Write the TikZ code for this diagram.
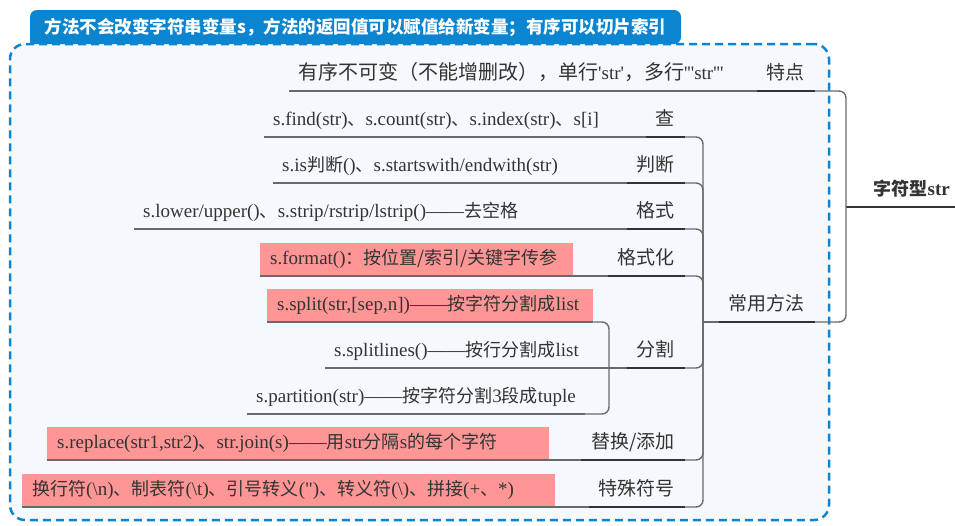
\documentclass[tikz,border=0pt]{standalone}
\usepackage{fontspec}
\newfontfamily\lat{Liberation Serif}
\newfontfamily\cjk{Noto Sans CJK SC}
\newcommand\zhs[1]{{\cjk\fontsize{18}{22}\selectfont #1}}
\newcommand\zhl[1]{{\cjk\fontsize{20}{22}\selectfont #1}}
\hyphenpenalty=10000
\exhyphenpenalty=10000
\definecolor{tabblue}{RGB}{11,133,208}
\definecolor{framefill}{RGB}{245,249,253}
\definecolor{pinkc}{RGB}{255,150,150}
\definecolor{linegray}{RGB}{105,105,105}
\definecolor{darkline}{RGB}{51,51,51}
\definecolor{txt}{RGB}{51,51,51}
\tikzset{
  conn/.style={draw=linegray, line width=1.4pt},
  dk/.style={draw=darkline, line width=2.2pt},
  cnt/.style={anchor=south west, inner xsep=9pt, inner ysep=0pt, minimum height=33pt,
    text height=16pt, text depth=5pt, font=\lat\fontsize{19}{22}\selectfont, text=txt},
  pk/.style={cnt, fill=pinkc, inner xsep=10pt, text width=#1, align=left},
  lab/.style={anchor=south east, inner xsep=10pt, inner ysep=0pt, minimum height=33pt,
    text height=16pt, text depth=5pt, font=\cjk\fontsize{19}{22}\selectfont, text=txt},
  outerbox/.style={draw=tabblue, line width=2.5pt, dash pattern=on 8pt off 5pt,
    rounded corners=15pt, fill=framefill, minimum width=819pt, minimum height=476pt, inner sep=0pt},
  titlenode/.style={text=white, font=\cjk\bfseries\fontsize{17.5}{20}\selectfont, inner sep=0pt},
  rootn/.style={anchor=south east, inner xsep=5pt, inner ysep=0pt, minimum height=33pt,
    text height=16pt, text depth=5pt, font=\lat\bfseries\fontsize{19}{22}\selectfont, text=txt},
}
\begin{document}
\begin{tikzpicture}[x=1pt,y=-1pt]
\useasboundingbox (0,0) rectangle (955,525);
% container
\node[outerbox] (box) at (419.5,282) {};
\fill[tabblue] (30,44) [rounded corners=7] -- (30,10) -- (681,10) -- (681,44) [sharp corners] -- cycle;
\node[titlenode] (title) at (355.5,27) {方法不会改变字符串变量s，方法的返回值可以赋值给新变量；有序可以切片索引};
% root
\node[rootn] (root) at (955,207) {\zhs{\bfseries 字符型}str};
\coordinate (rj) at (846,207);
\draw[dk] (rj) -- (root.south east);
% 特点
\node[lab] (td) at (815,91) {特点};
\node[cnt] (tdc) at (289,91) {\zhl{有序不可变（不能增删改），单行}'str'\zhl{，多行}'''str'''};
\draw[conn] (tdc.south west) -- (td.south west);
\draw[dk] (td.south west) -- (td.south east);
\draw[conn, rounded corners=7] (rj) |- (td.south east);
% 常用方法
\node[lab] (cy) at (815,322) {常用方法};
\coordinate (cyj) at (703,322);
\draw[conn] (cyj) -- (cy.south west);
\draw[dk] (cy.south west) -- (cy.south east);
\draw[conn, rounded corners=7] (rj) |- (cy.south east);
% 查
\node[lab] (ch) at (685,137) {查};
\node[cnt] (chc) at (264,137) {s.find(str)\zhs{、}s.count(str)\zhs{、}s.index(str)\zhs{、}s[i]};
\draw[conn] (chc.south west) -- (ch.south west);
\draw[dk] (ch.south west) -- (ch.south east);
\draw[conn, rounded corners=7] (cyj) |- (ch.south east);
% 判断
\node[lab] (pd) at (685,183) {判断};
\node[cnt] (pdc) at (273,183) {s.is\zhs{判断}()\zhs{、}s.startswith/endwith(str)};
\draw[conn] (pdc.south west) -- (pd.south west);
\draw[dk] (pd.south west) -- (pd.south east);
\draw[conn, rounded corners=7] (cyj) |- (pd.south east);
% 格式
\node[lab] (gs) at (685,229) {格式};
\node[cnt] (gsc) at (134,229) {s.lower/upper()\zhs{、}s.strip/rstrip/lstrip()——\zhs{去空格}};
\draw[conn] (gsc.south west) -- (gs.south west);
\draw[dk] (gs.south west) -- (gs.south east);
\draw[conn, rounded corners=7] (cyj) |- (gs.south east);
% 格式化
\node[lab] (gsh) at (685,276) {格式化};
\node[pk=293pt] (gshc) at (260,276) {s.format()\zhs{：按位置/索引/关键字传参}};
\draw[conn] (gshc.south west) -- (gsh.south west);
\draw[dk] (gsh.south west) -- (gsh.south east);
\draw[conn, rounded corners=7] (cyj) |- (gsh.south east);
% 分割
\node[lab] (fg) at (685,368) {分割};
\coordinate (fgj) at (609,368);
\draw[conn] (fgj) -- (fg.south west);
\draw[dk] (fg.south west) -- (fg.south east);
\draw[conn, rounded corners=7] (cyj) |- (fg.south east);
\node[pk=306pt] (spc) at (267,322) {s.split(str,[sep,n])——\zhs{按字符分割成}list};
\draw[conn] (spc.south west) -- (spc.south east);
\draw[conn, rounded corners=7] (fgj) |- (spc.south east);
\node[cnt] (slc) at (325,368) {s.splitlines()——\zhs{按行分割成}list};
\draw[conn] (slc.south west) -- (fgj);
\node[cnt] (ptc) at (247,414) {s.partition(str)——\zhs{按字符分割}3\zhs{段成}tuple};
\draw[conn] (ptc.south west) -- (ptc.south east);
\draw[conn, rounded corners=7] (fgj) |- (ptc.south east);
% 替换/添加
\node[lab] (th) at (685,460) {替换/添加};
\node[pk=482pt] (thc) at (47,460) {s.replace(str1,str2)\zhs{、}str.join(s)——\zhs{用}str\zhs{分隔}s\zhs{的每个字符}};
\draw[conn] (thc.south west) -- (th.south west);
\draw[dk] (th.south west) -- (th.south east);
\draw[conn, rounded corners=7] (cyj) |- (th.south east);
% 特殊符号
\node[lab] (ts) at (685,507) {特殊符号};
\node[pk=513pt] (tsc) at (22,507) {\zhs{换行符}(\textbackslash n)\zhs{、制表符}(\textbackslash t)\zhs{、引号转义}(")\zhs{、转义符}(\textbackslash)\zhs{、拼接}(+\zhs{、}*)};
\draw[conn] (tsc.south west) -- (ts.south west);
\draw[dk] (ts.south west) -- (ts.south east);
\draw[conn, rounded corners=7] (cyj) |- (ts.south east);
\end{tikzpicture}
\end{document}
